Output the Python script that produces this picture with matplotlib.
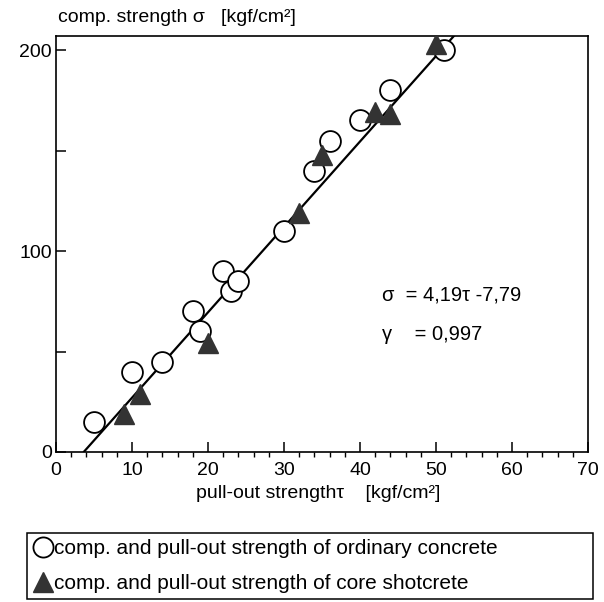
import matplotlib
matplotlib.use("Agg")
import matplotlib.pyplot as plt
from matplotlib.lines import Line2D

# ordinary concrete (open circles)
tau_ord = [5, 10, 14, 18, 19, 22, 23, 24, 30, 34, 36, 40, 44, 51]
sig_ord = [15, 40, 45, 70, 60, 90, 80, 85, 110, 140, 155, 165, 180, 200]

# core shotcrete (filled triangles)
tau_core = [9, 11, 20, 32, 35, 42, 44, 50]
sig_core = [19, 29, 54, 119, 148, 169, 168, 203]

# regression line as drawn
fit_x = [3.7, 53]
fit_slope = 4.25
fit_icpt = -15.5

x_ticks = [0, 10, 20, 30, 40, 50, 60, 70]
y_ticks = [0, 50, 100, 150, 200]
y_labels = ["0", "", "100", "", "200"]

plt.rcParams['font.family'] = ['Liberation Sans', 'DejaVu Sans']

fig = plt.figure(figsize=(6.04, 6.02), dpi=100)
ax = fig.add_axes([56/604, 1 - 452/602, 532/604, 416/602])

fit_y = [fit_slope * x + fit_icpt for x in fit_x]
ax.plot(fit_x, fit_y, color='black', lw=1.6, zorder=1)
ax.plot(tau_ord, sig_ord, 'o', ms=15, mfc='white', mec='black', mew=1.3,
        zorder=2, linestyle='none')
ax.plot(tau_core, sig_core, '^', ms=15, mfc='#333333', mec='#333333',
        zorder=3, linestyle='none')

ax.set_xlim(0, 70)
ax.set_ylim(0, 207)
ax.set_xticks(x_ticks)
ax.set_xticks(range(0, 71, 2), minor=True)
ax.set_yticks(y_ticks)
ax.set_yticklabels(y_labels)
ax.tick_params(axis='both', direction='in', labelsize=14, width=1.1)
ax.tick_params(axis='x', length=7, pad=7)
ax.tick_params(axis='x', which='minor', length=3.5, width=1)
ax.tick_params(axis='y', length=7, pad=3)
for s in ax.spines.values():
    s.set_linewidth(1.2)

# equation of the fit
ax.text(42.9, 78, "σ  = 4,19τ -7,79", fontsize=14.5, va='center')
ax.text(42.9, 58.5, "γ    = 0,997", fontsize=14.5, va='center')

fig.text(58/604, 1 - 17/602, "comp. strength σ   [kgf/cm²]", fontsize=14,
         va='center', ha='left')
fig.text(318/604, 1 - 494/602, "pull-out strengthτ    [kgf/cm²]", fontsize=14,
         va='center', ha='center')

handles = [
    Line2D([], [], marker='o', ls='none', ms=14.5, mfc='white', mec='black', mew=1.3),
    Line2D([], [], marker='^', ls='none', ms=15, mfc='#333333', mec='#333333'),
]
labels = ["comp. and pull-out strength of ordinary concrete",
          "comp. and pull-out strength of core shotcrete"]
leg = fig.legend(handles, labels, loc='upper left', mode='expand',
                 bbox_to_anchor=(27/604, 1 - 533/602, 566/604, 0),
                 fontsize=15, handlelength=0.9, handletextpad=0.1,
                 borderpad=0.3, labelspacing=0.75, borderaxespad=0,
                 fancybox=False, edgecolor='black', framealpha=1)
leg.get_frame().set_linewidth(1.1)

fig.savefig("out.png", dpi=100)
